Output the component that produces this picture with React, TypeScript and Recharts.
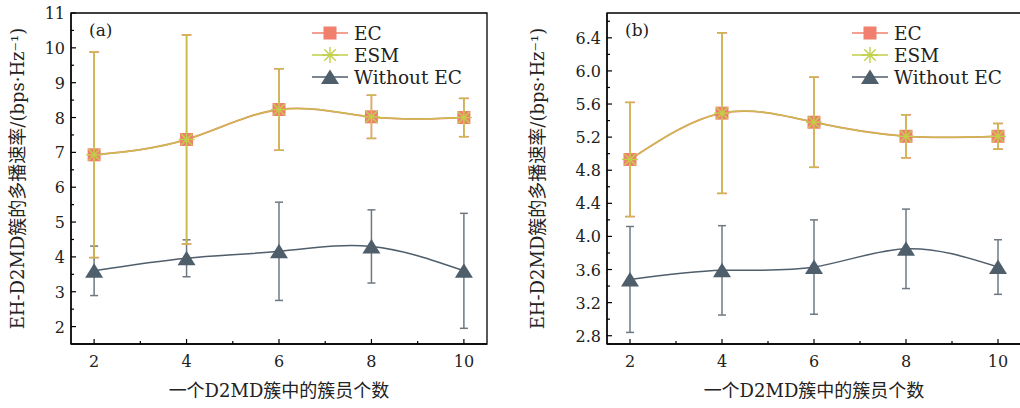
import { LineChart, Line, XAxis, YAxis, ErrorBar, Legend, ReferenceArea } from 'recharts'

const FONT = "'DejaVu Serif', 'Noto Sans CJK SC', serif"

const CLUSTER_SIZES = [2, 4, 6, 8, 10]

// (a)
const EC_A = [6.93, 7.37, 8.23, 8.02, 8.0]
const EC_A_ERR = [2.95, 3.0, 1.17, 0.62, 0.55]
const ESM_A = [6.93, 7.37, 8.23, 8.02, 8.0]
const ESM_A_ERR = [2.95, 3.0, 1.17, 0.62, 0.55]
const WO_A = [3.6, 3.96, 4.16, 4.3, 3.6]
const WO_A_ERR = [0.71, 0.53, 1.41, 1.05, 1.65]

// (b)
const EC_B = [4.93, 5.49, 5.38, 5.21, 5.21]
const EC_B_ERR = [0.69, 0.97, 0.545, 0.26, 0.155]
const ESM_B = [4.93, 5.49, 5.38, 5.21, 5.21]
const ESM_B_ERR = [0.69, 0.97, 0.545, 0.26, 0.155]
const WO_B = [3.48, 3.59, 3.63, 3.85, 3.63]
const WO_B_ERR = [0.64, 0.54, 0.57, 0.48, 0.33]

const X_MAJOR = [2, 4, 6, 8, 10]
const X_MINOR = [3, 5, 7, 9]
const Y_MAJOR_A = [2, 3, 4, 5, 6, 7, 8, 9, 10, 11]
const Y_MINOR_A = [2.5, 3.5, 4.5, 5.5, 6.5, 7.5, 8.5, 9.5, 10.5]
const Y_MAJOR_B = [2.8, 3.2, 3.6, 4.0, 4.4, 4.8, 5.2, 5.6, 6.0, 6.4]
const Y_MINOR_B = [3.0, 3.4, 3.8, 4.2, 4.6, 5.0, 5.4, 5.8, 6.2, 6.6]

const X_TITLE = '一个D2MD簇中的簇员个数'
const Y_TITLE = 'EH-D2MD簇的多播速率/(bps·Hz⁻¹)'

const EC_COLOR = '#f07f6e'
const ESM_COLOR = '#c2cf48'
const ESM_BAR = '#c9bb4e'
const WO_COLOR = '#4f5e6b'
const WO_BAR = '#6e7883'

const SERIES = [
  { name: 'EC', color: EC_COLOR, kind: 'square' },
  { name: 'ESM', color: ESM_COLOR, kind: 'star' },
  { name: 'Without EC', color: WO_COLOR, kind: 'triangle' },
] as const

function buildRows(ec: number[], ecErr: number[], esm: number[], esmErr: number[], wo: number[], woErr: number[]) {
  return CLUSTER_SIZES.map((n, i) => ({
    n,
    ec: ec[i],
    ecErr: ecErr[i],
    esm: esm[i],
    esmErr: esmErr[i],
    wo: wo[i],
    woErr: woErr[i],
  }))
}

function Marker({ kind, cx, cy }: { kind: string; cx: number; cy: number }) {
  if (kind === 'square') {
    return <rect x={cx - 6.5} y={cy - 6.5} width={13} height={13} fill={EC_COLOR} />
  }
  if (kind === 'star') {
    const r = 8
    const d = r * 0.72
    return (
      <g stroke={ESM_COLOR} strokeWidth={1.4}>
        <line x1={cx - r} y1={cy} x2={cx + r} y2={cy} />
        <line x1={cx} y1={cy - r} x2={cx} y2={cy + r} />
        <line x1={cx - d} y1={cy - d} x2={cx + d} y2={cy + d} />
        <line x1={cx - d} y1={cy + d} x2={cx + d} y2={cy - d} />
      </g>
    )
  }
  return <polygon points={`${cx - 9},${cy + 7} ${cx + 9},${cy + 7} ${cx},${cy - 7.5}`} fill={WO_COLOR} />
}

const dotFor = (kind: string) => (props: any) => {
  if (props.cx == null || props.cy == null) return <g key={props.index} />
  return <Marker key={`${kind}-${props.index}`} kind={kind} cx={props.cx} cy={props.cy} />
}

function YTick(props: any) {
  const { x, y, payload, majors, digits } = props
  const major = majors.includes(payload.value)
  return (
    <g>
      <line x1={x} x2={x + (major ? 5 : 3)} y1={y} y2={y} stroke="#000" strokeWidth={1.2} />
      {major && (
        <text x={x - 6} y={y} dy={6} textAnchor="end" fontSize={16} fontFamily={FONT} fill="#222">
          {Number(payload.value).toFixed(digits)}
        </text>
      )}
    </g>
  )
}

function XTick(props: any) {
  const { x, y, payload } = props
  const major = X_MAJOR.includes(payload.value)
  return (
    <g>
      <line x1={x} x2={x} y1={y} y2={y - (major ? 5 : 3)} stroke="#000" strokeWidth={1.2} />
      {major && (
        <text x={x} y={y + 23} textAnchor="middle" fontSize={16} fontFamily={FONT} fill="#222">
          {payload.value}
        </text>
      )}
    </g>
  )
}

function LegendBox() {
  return (
    <div style={{ fontFamily: FONT, fontSize: 18.5, color: '#222' }}>
      {SERIES.map((s) => (
        <div key={s.name} style={{ display: 'flex', alignItems: 'center', height: 22 }}>
          <svg width={36} height={18}>
            <line x1={0} x2={36} y1={9} y2={9} stroke={s.color} strokeWidth={1.5} />
            <Marker kind={s.kind} cx={18} cy={9} />
          </svg>
          <span style={{ marginLeft: 6, whiteSpace: 'nowrap' }}>{s.name}</span>
        </div>
      ))}
    </div>
  )
}

type PanelProps = {
  tag: string
  rows: ReturnType<typeof buildRows>
  yDomain: [number, number]
  yMajor: number[]
  yMinor: number[]
  digits: number
  axisWidth: number
  marginRight: number
  legendLeft: number
}

function Panel({ tag, rows, yDomain, yMajor, yMinor, digits, axisWidth, marginRight, legendLeft }: PanelProps) {
  const yTicks = [...yMajor, ...yMinor].sort((a, b) => a - b)
  const xTicks = [...X_MAJOR, ...X_MINOR].sort((a, b) => a - b)
  return (
    <LineChart width={510} height={408} data={rows} margin={{ top: 13, right: marginRight, bottom: 0, left: 0 }}>
      <XAxis
        dataKey="n"
        type="number"
        domain={[1.5, 10.5]}
        ticks={xTicks}
        interval={0}
        tickSize={0}
        tickMargin={0}
        tick={<XTick />}
        height={64}
        axisLine={{ stroke: '#000', strokeWidth: 1.3 }}
        label={{ value: X_TITLE, position: 'insideBottom', offset: 11, fontSize: 18, fill: '#222', fontFamily: FONT }}
      />
      <YAxis
        type="number"
        domain={yDomain}
        ticks={yTicks}
        interval={0}
        allowDataOverflow
        tickSize={0}
        tickMargin={0}
        tick={<YTick majors={yMajor} digits={digits} />}
        width={axisWidth}
        axisLine={{ stroke: '#000', strokeWidth: 1.3 }}
        label={{
          value: Y_TITLE,
          angle: -90,
          position: 'insideLeft',
          offset: 18,
          fontSize: 18,
          fill: '#222',
          fontFamily: FONT,
          style: { textAnchor: 'middle' },
        }}
      />
      <ReferenceArea
        x1={1.5}
        x2={10.5}
        y1={yDomain[0]}
        y2={yDomain[1]}
        fill="none"
        fillOpacity={0}
        stroke="#000"
        strokeWidth={1.3}
        label={{ value: tag, position: 'insideTopLeft', offset: 11, dx: 7, fontSize: 17, fill: '#222', fontFamily: FONT }}
      />
      <Line
        dataKey="wo"
        name="Without EC"
        type="natural"
        stroke={WO_COLOR}
        strokeWidth={1.5}
        dot={dotFor('triangle')}
        isAnimationActive={false}
      >
        <ErrorBar dataKey="woErr" direction="y" width={4} stroke={WO_BAR} strokeWidth={1.5} />
      </Line>
      <Line
        dataKey="ec"
        name="EC"
        type="natural"
        stroke={EC_COLOR}
        strokeWidth={1.8}
        dot={dotFor('square')}
        isAnimationActive={false}
      >
        <ErrorBar dataKey="ecErr" direction="y" width={5} stroke={EC_COLOR} strokeWidth={1.5} />
      </Line>
      <Line
        dataKey="esm"
        name="ESM"
        type="natural"
        stroke={ESM_BAR}
        strokeWidth={1.5}
        dot={dotFor('star')}
        isAnimationActive={false}
      >
        <ErrorBar dataKey="esmErr" direction="y" width={4} stroke={ESM_BAR} strokeWidth={1.5} />
      </Line>
      <Legend
        layout="vertical"
        align="center"
        verticalAlign="middle"
        content={<LegendBox />}
        wrapperStyle={{ left: legendLeft, top: 22, width: 'auto', height: 'auto' }}
      />
    </LineChart>
  )
}

export default function App() {
  const rowsA = buildRows(EC_A, EC_A_ERR, ESM_A, ESM_A_ERR, WO_A, WO_A_ERR)
  const rowsB = buildRows(EC_B, EC_B_ERR, ESM_B, ESM_B_ERR, WO_B, WO_B_ERR)
  return (
    <div
      style={{
        position: 'absolute',
        left: 0,
        top: 0,
        width: 1020,
        height: 408,
        background: '#fff',
        overflow: 'hidden',
        fontFamily: FONT,
      }}
    >
      <div style={{ position: 'absolute', left: 0, top: 0 }}>
        <Panel
          tag="(a)"
          rows={rowsA}
          yDomain={[1.5, 11]}
          yMajor={Y_MAJOR_A}
          yMinor={Y_MINOR_A}
          digits={0}
          axisWidth={71}
          marginRight={23}
          legendLeft={312}
        />
      </div>
      <div style={{ position: 'absolute', left: 520, top: 0 }}>
        <Panel
          tag="(b)"
          rows={rowsB}
          yDomain={[2.7, 6.7]}
          yMajor={Y_MAJOR_B}
          yMinor={Y_MINOR_B}
          digits={1}
          axisWidth={87}
          marginRight={9}
          legendLeft={332}
        />
      </div>
    </div>
  )
}
